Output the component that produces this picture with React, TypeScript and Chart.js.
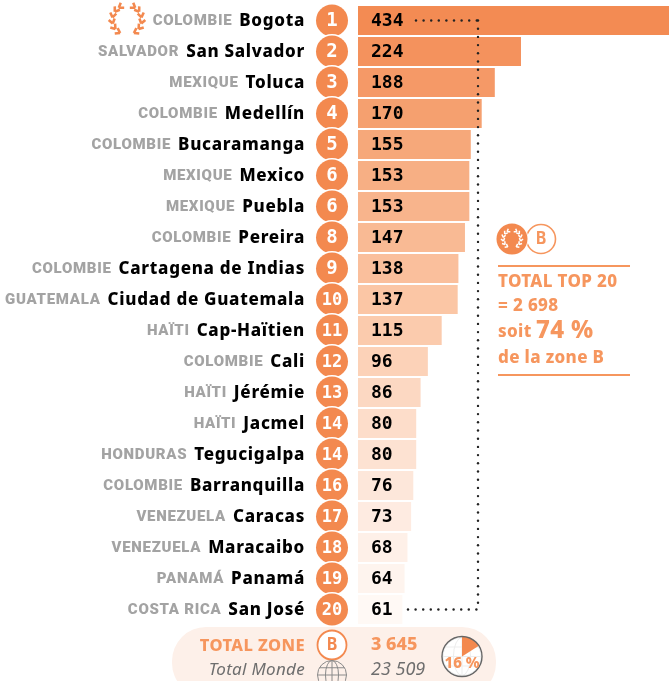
import React, { useEffect, useRef } from "react";
import { Chart, registerables } from "chart.js";

Chart.register(...registerables);

const countries = ["COLOMBIE","SALVADOR","MEXIQUE","COLOMBIE","COLOMBIE","MEXIQUE","MEXIQUE","COLOMBIE","COLOMBIE","GUATEMALA","HAÏTI","COLOMBIE","HAÏTI","HAÏTI","HONDURAS","COLOMBIE","VENEZUELA","VENEZUELA","PANAMÁ","COSTA RICA"];
const cities = ["Bogota","San Salvador","Toluca","Medellín","Bucaramanga","Mexico","Puebla","Pereira","Cartagena de Indias","Ciudad de Guatemala","Cap-Haïtien","Cali","Jérémie","Jacmel","Tegucigalpa","Barranquilla","Caracas","Maracaibo","Panamá","San José"];
const ranks = ["1","2","3","4","5","6","6","8","9","10","11","12","13","14","14","16","17","18","19","20"];
const values = [434,224,188,170,155,153,153,147,138,137,115,96,86,80,80,76,73,68,64,61];
const barColors = ["#F38B53","#F4925D","#F59967","#F5A06F","#F6A87A","#F7AF84","#F8B48C","#F9BA94","#FABF9C","#FBC6A5","#FBCBAD","#FCD2B8","#FCD8C2","#FDDDCA","#FDE2D2","#FDE7DA","#FEEBE1","#FEF0E8","#FEF4EE","#FFF9F5"];
const totalZone = "3 645";
const totalWorld = "23 509";
const zoneSharePct = 16;

const ORANGE = "#F3894F";
const LIGHT_ORANGE = "#F6965E";
const GRAY = "#A3A3A3";
const MONO = '"DejaVu Sans Mono"';
const SANS = '"Noto Sans"';

function wreath(ctx: CanvasRenderingContext2D, cx: number, cy: number, r: number, color: string) {
  ctx.save();
  ctx.strokeStyle = color;
  ctx.lineWidth = r * 0.17;
  const len = r * 0.36;
  [-1, 1].forEach((side) => {
    [152, 128, 104, 80, 56, 34].forEach((deg) => {
      const a = (deg * Math.PI) / 180;
      const px = cx + side * r * 0.98 * Math.sin(a);
      const py = cy - r * 0.98 * Math.cos(a);
      const base = Math.atan2(-Math.sin(a), -side * Math.cos(a));
      [-0.6, 0.6].forEach((k) => {
        ctx.beginPath();
        ctx.moveTo(px, py);
        ctx.lineTo(px + len * Math.cos(base + k), py + len * Math.sin(base + k));
        ctx.stroke();
      });
    });
  });
  ctx.restore();
}

function globe(ctx: CanvasRenderingContext2D, cx: number, cy: number, r: number, color: string) {
  ctx.save();
  ctx.strokeStyle = color;
  ctx.lineWidth = 1;
  ctx.beginPath();
  ctx.arc(cx, cy, r, 0, Math.PI * 2);
  ctx.stroke();
  ctx.beginPath();
  ctx.ellipse(cx, cy, r * 0.45, r, 0, 0, Math.PI * 2);
  ctx.moveTo(cx, cy - r);
  ctx.lineTo(cx, cy + r);
  [-0.5, 0, 0.5].forEach((t) => {
    const w = r * Math.sqrt(1 - t * t);
    ctx.moveTo(cx - w, cy + t * r);
    ctx.lineTo(cx + w, cy + t * r);
  });
  ctx.stroke();
  ctx.restore();
}

const overlay = {
  id: "overlay",
  beforeDatasetsDraw(chart: any) {
    const ctx: CanvasRenderingContext2D = chart.ctx;
    ctx.save();
    ctx.fillStyle = "#FDF0E9";
    ctx.beginPath();
    ctx.roundRect(172, 627, 324, 70, 34);
    ctx.fill();
    ctx.restore();
  },
  afterDatasetsDraw(chart: any) {
    const ctx: CanvasRenderingContext2D = chart.ctx;
    const yScale = chart.scales.y;
    const yOf = (i: number) => yScale.getPixelForValue(i);
    ctx.save();
    ctx.textBaseline = "middle";

    // dotted bracket
    ctx.fillStyle = "#222";
    const y0 = yOf(0);
    const y1 = yOf(19);
    const dot = (x: number, y: number) => {
      ctx.beginPath();
      ctx.arc(x, y, 1.2, 0, Math.PI * 2);
      ctx.fill();
    };
    for (let x = 416; x <= 478; x += 7.6) dot(x, y0);
    for (let x = 408; x <= 478; x += 7.6) dot(x, y1);
    for (let y = y0; y <= y1; y += 8.2) dot(478, y);

    cities.forEach((city, i) => {
      const y = yOf(i);
      // names
      ctx.textAlign = "right";
      ctx.letterSpacing = "0.7px";
      ctx.font = `800 17px ${SANS}`;
      ctx.fillStyle = "#000";
      ctx.fillText(city, 305, y + 0.5);
      const w = ctx.measureText(city).width;
      ctx.font = `900 15px Roboto`;
      ctx.fillStyle = GRAY;
      ctx.letterSpacing = "0.7px";
      ctx.fillText(countries[i], 305 - w - 7, y + 1);
      ctx.letterSpacing = "0px";
      // rank badge
      ctx.beginPath();
      ctx.arc(332, y, 17.5, 0, Math.PI * 2);
      ctx.fillStyle = "#fff";
      ctx.fill();
      ctx.beginPath();
      ctx.arc(332, y, 16, 0, Math.PI * 2);
      ctx.fillStyle = ORANGE;
      ctx.fill();
      ctx.fillStyle = "#fff";
      ctx.textAlign = "center";
      ctx.font = `bold ${ranks[i].length > 1 ? 17 : 19}px ${MONO}`;
      ctx.fillText(ranks[i], 332, y + 1);
      // value
      ctx.textAlign = "left";
      ctx.fillStyle = "#000";
      ctx.font = `bold 18px ${MONO}`;
      ctx.fillText(String(values[i]), 371, y + 1);
    });

    wreath(ctx, 127, 20, 15, ORANGE);

    // side panel
    ctx.beginPath();
    ctx.arc(541, 239, 14.5, 0, Math.PI * 2);
    ctx.strokeStyle = LIGHT_ORANGE;
    ctx.lineWidth = 1.6;
    ctx.stroke();
    ctx.beginPath();
    ctx.arc(512, 239, 16.5, 0, Math.PI * 2);
    ctx.fillStyle = "#fff";
    ctx.fill();
    ctx.beginPath();
    ctx.arc(512, 239, 15.5, 0, Math.PI * 2);
    ctx.fillStyle = ORANGE;
    ctx.fill();
    wreath(ctx, 512, 239, 9, "#fff");
    ctx.fillStyle = LIGHT_ORANGE;
    ctx.textAlign = "center";
    ctx.font = `bold 17px ${MONO}`;
    ctx.fillText("B", 541, 240);
    ctx.fillRect(498, 265, 132, 2);
    ctx.fillRect(498, 374, 132, 2);
    ctx.textAlign = "left";
    ctx.font = `800 17px ${SANS}`;
    ctx.letterSpacing = "0.35px";
    ctx.fillText("TOTAL TOP 20", 498, 282);
    ctx.fillText("= 2 698", 498, 306);
    ctx.fillText("soit", 498, 332);
    ctx.fillText("de la zone B", 498, 358);
    ctx.font = `800 24px ${SANS}`;
    ctx.fillText("74 %", 536, 331);
    ctx.letterSpacing = "0px";

    // totals row
    ctx.textAlign = "right";
    ctx.fillStyle = LIGHT_ORANGE;
    ctx.font = `800 16.5px ${SANS}`;
    ctx.letterSpacing = "0.4px";
    ctx.fillText("TOTAL ZONE", 305, 646);
    ctx.letterSpacing = "0.3px";
    ctx.fillStyle = "#6E6E6E";
    ctx.font = `italic 17px ${SANS}`;
    ctx.fillText("Total Monde", 305, 670);
    ctx.letterSpacing = "0px";
    ctx.textAlign = "left";
    ctx.fillStyle = LIGHT_ORANGE;
    ctx.font = `800 18px ${SANS}`;
    ctx.fillText(totalZone, 371, 645);
    ctx.fillStyle = "#6E6E6E";
    ctx.font = `italic 18px ${SANS}`;
    ctx.fillText(totalWorld, 371, 670);

    ctx.beginPath();
    ctx.arc(332, 645, 14.5, 0, Math.PI * 2);
    ctx.fillStyle = "#fff";
    ctx.fill();
    ctx.strokeStyle = ORANGE;
    ctx.lineWidth = 1.8;
    ctx.stroke();
    ctx.fillStyle = ORANGE;
    ctx.textAlign = "center";
    ctx.font = `bold 17px ${MONO}`;
    ctx.fillText("B", 332, 646);
    globe(ctx, 332, 675, 14.5, "#8A8A8A");

    // share pie
    const pcx = 462;
    const pcy = 656.5;
    const pr = 20;
    ctx.beginPath();
    ctx.arc(pcx, pcy, pr, 0, Math.PI * 2);
    ctx.fillStyle = "#fff";
    ctx.fill();
    globe(ctx, pcx, pcy, pr - 1, "#EDEDED");
    ctx.beginPath();
    ctx.moveTo(pcx, pcy);
    ctx.arc(pcx, pcy, pr, -Math.PI / 2, -Math.PI / 2 + (zoneSharePct / 100) * Math.PI * 2);
    ctx.closePath();
    ctx.fillStyle = ORANGE;
    ctx.fill();
    ctx.beginPath();
    ctx.arc(pcx, pcy, pr, 0, Math.PI * 2);
    ctx.strokeStyle = "#666";
    ctx.lineWidth = 1.4;
    ctx.stroke();
    ctx.fillStyle = LIGHT_ORANGE;
    ctx.font = `800 15px ${SANS}`;
    ctx.fillText(`${zoneSharePct} %`, pcx, pcy + 7);
    ctx.restore();
  },
};

export default function App() {
  const ref = useRef<HTMLCanvasElement>(null);
  useEffect(() => {
    const chart = new Chart(ref.current!, {
      type: "bar",
      data: {
        labels: cities,
        datasets: [
          {
            data: values,
            backgroundColor: barColors,
            borderWidth: 0,
            barPercentage: 1,
            categoryPercentage: 0.93,
          },
        ],
      },
      options: {
        indexAxis: "y",
        animation: false,
        responsive: false,
        layout: { padding: { left: 358, top: 5, right: 0, bottom: 56 } },
        plugins: { legend: { display: false }, tooltip: { enabled: false } },
        scales: {
          x: { display: false, min: 0, max: 427.4 },
          y: { display: false },
        },
      },
      plugins: [overlay],
    } as any);
    return () => chart.destroy();
  }, []);
  return (
    <div style={{ position: "absolute", left: 0, top: 0, width: 669, height: 681, overflow: "hidden", background: "#fff" }}>
      <canvas ref={ref} width={669} height={681} style={{ display: "block" }} />
    </div>
  );
}
